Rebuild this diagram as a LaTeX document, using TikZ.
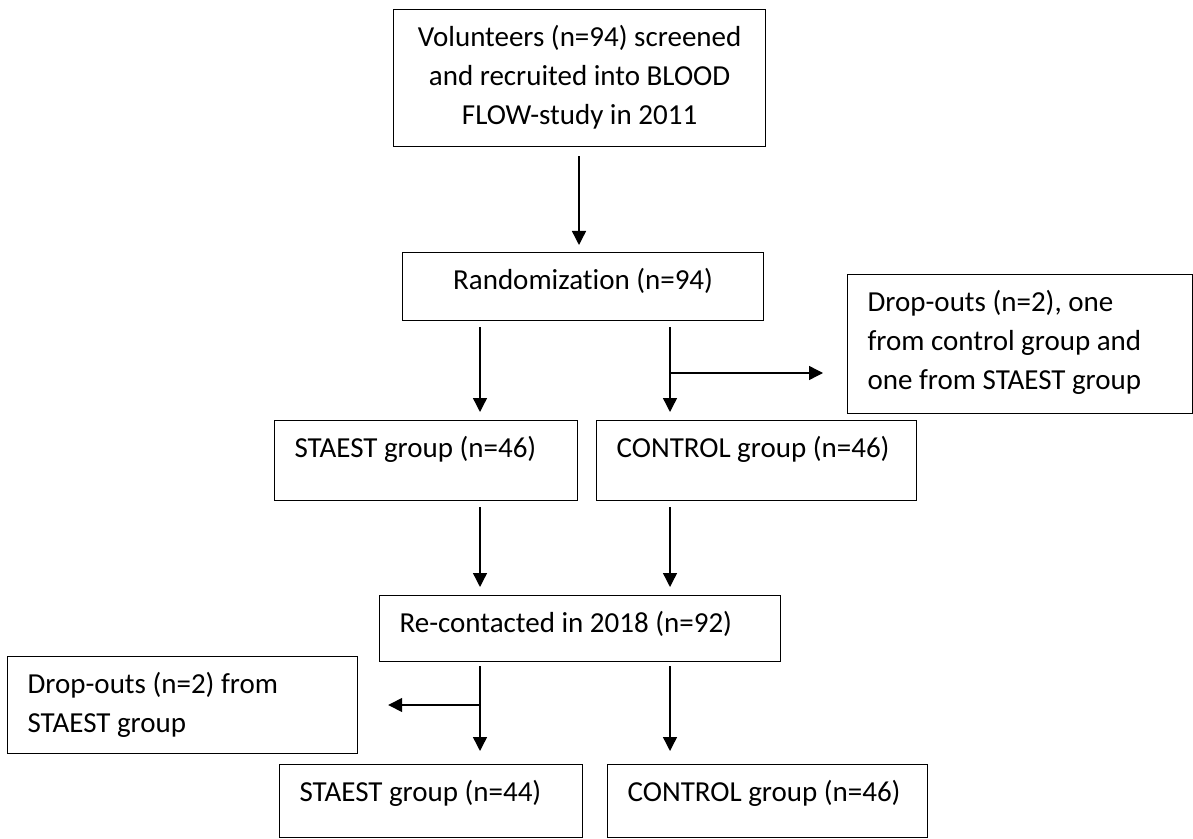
\documentclass[tikz,border=0pt]{standalone}
\usepackage{fontspec}
\setmainfont{Carlito}[Ligatures=NoCommon]
\usepackage{tikz}
\usetikzlibrary{arrows.meta}

\newcommand{\flowtext}[3]{\parbox[c][#2][t]{#1}{\rule{0pt}{18.5pt}#3}}

\tikzset{
  flowbox/.style={draw, line width=0.6pt, inner sep=0pt, anchor=north west,
    font=\fontsize{14.5pt}{19.5pt}\selectfont},
  padded/.style={inner xsep=10pt},
  flowarrow/.style={-{Triangle[length=7pt,width=7pt]}, line width=0.7pt},
}

\begin{document}
\begin{tikzpicture}[x=0.5pt, y=-0.5pt]
\path[fill=white, use as bounding box] (0,0) rectangle (1193,839);

\node[flowbox] (vol) at (393,9) {\flowtext{186pt}{68.5pt}{\centering Volunteers (n=94) screened\\and recruited into BLOOD\\FLOW-study in 2011}};
\node[flowbox] (rand) at (402,252) {\flowtext{180.5pt}{34pt}{\centering Randomization (n=94)}};
\node[flowbox, padded] (dropA) at (847,274) {\flowtext{152.5pt}{69.5pt}{\raggedright Drop-outs (n=2), one\\from control group and\\one from STAEST group}};
\node[flowbox, padded] (staest1) at (274,420) {\flowtext{131.5pt}{40pt}{\raggedright STAEST group (n=46)}};
\node[flowbox, padded] (control1) at (596,420) {\flowtext{140pt}{40pt}{\raggedright CONTROL group (n=46)}};
\node[flowbox, padded] (recon) at (379,595) {\flowtext{180.5pt}{33pt}{\raggedright Re-contacted in 2018 (n=92)}};
\node[flowbox, padded] (dropB) at (7,656) {\flowtext{155pt}{48.5pt}{\raggedright Drop-outs (n=2) from\\STAEST group}};
\node[flowbox, padded] (staest2) at (279,764) {\flowtext{131.5pt}{36.5pt}{\raggedright STAEST group (n=44)}};
\node[flowbox, padded] (control2) at (607,764) {\flowtext{140pt}{36.5pt}{\raggedright CONTROL group (n=46)}};

% arrow columns and branch levels
\coordinate (colM) at (579,0);
\coordinate (colL) at (480,0);
\coordinate (colR) at (670,0);
\coordinate (splitA) at (0,373);
\coordinate (splitB) at (0,705);

\draw[flowarrow, shorten <=4.5pt, shorten >=3.5pt] (vol.south -| colM) -- (rand.north -| colM);
\draw[flowarrow, shorten <=3pt, shorten >=4pt] (rand.south -| colL) -- (staest1.north -| colL);
\draw[flowarrow, shorten <=3pt, shorten >=4pt] (rand.south -| colR) -- (control1.north -| colR);
\draw[flowarrow, shorten >=12pt] (colR |- splitA) -- (dropA.west |- splitA);
\draw[flowarrow, shorten <=3pt, shorten >=4pt] (staest1.south -| colL) -- (recon.north -| colL);
\draw[flowarrow, shorten <=3pt, shorten >=4pt] (control1.south -| colR) -- (recon.north -| colR);
\draw[flowarrow, shorten <=2pt, shorten >=6.5pt] (recon.south -| colL) -- (staest2.north -| colL);
\draw[flowarrow, shorten <=2pt, shorten >=6.5pt] (recon.south -| colR) -- (control2.north -| colR);
\draw[flowarrow, shorten >=15pt] (colL |- splitB) -- (dropB.east |- splitB);
\end{tikzpicture}
\end{document}
